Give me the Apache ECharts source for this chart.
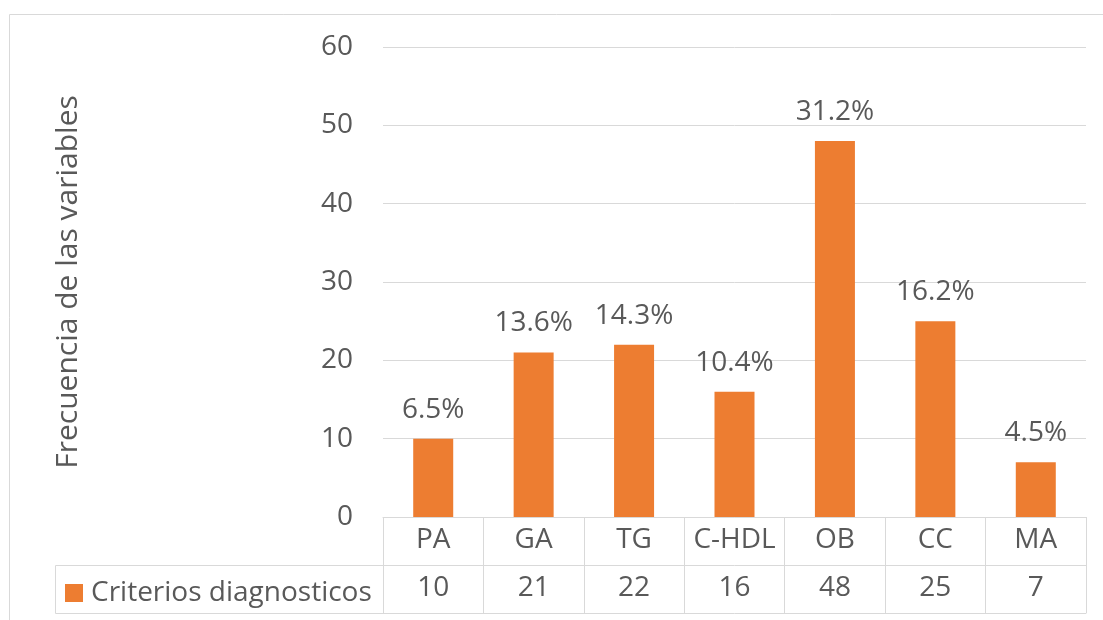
<!DOCTYPE html>
<html>
<head>
<meta charset="utf-8">
<script src="https://cdn.jsdelivr.net/npm/echarts@6/dist/echarts.min.js"></script>
<style>
  html, body { margin: 0; padding: 0; background: #fff; }
  #chart { width: 1103px; height: 620px; }
</style>
</head>
<body>
<div id="chart"></div>
<script>
// datos del grafico
const categorias = ['PA', 'GA', 'TG', 'C-HDL', 'OB', 'CC', 'MA']
const frecuencias = [10, 21, 22, 16, 48, 25, 7]
const porcentajes = ['6.5%', '13.6%', '14.3%', '10.4%', '31.2%', '16.2%', '4.5%']
const serieNombre = 'Criterios diagnosticos'
const ejeYNombre = 'Frecuencia de las variables'

const gris = '#595959'
const lineaGris = '#d9d9d9'
const naranja = '#ed7d31'
const fuente = '"Open Sans", sans-serif'
const tam = 28

const chart = echarts.init(document.getElementById('chart'))

const option = {
	animation: false,
	textStyle: { fontFamily: fuente },
	grid: { left: 383, right: 17, top: 47, bottom: 103 },
	legend: {
		data: [serieNombre],
		left: 60,
		top: 574,
		itemWidth: 18,
		itemHeight: 18,
		icon: 'rect',
		textStyle: { fontSize: tam, color: gris, fontFamily: fuente, padding: [0, 0, 0, 3] },
	},
	xAxis: [
		{
			type: 'category',
			data: categorias,
			axisLine: { lineStyle: { color: lineaGris } },
			axisTick: { show: true, interval: 0, length: 96, lineStyle: { color: lineaGris } },
			axisLabel: { interval: 0, fontSize: tam, color: gris, margin: 9 },
		},
		{
			type: 'category',
			data: categorias,
			position: 'bottom',
			offset: 48,
			axisLine: { lineStyle: { color: lineaGris } },
			axisTick: { show: false },
			axisLabel: {
				interval: 0,
				fontSize: tam,
				color: gris,
				margin: 9,
				formatter: (v, i) => String(frecuencias[i]),
			},
		},
		{
			type: 'category',
			data: categorias,
			position: 'bottom',
			offset: 96,
			axisLine: { lineStyle: { color: lineaGris } },
			axisTick: { show: false },
			axisLabel: { show: false },
		},
	],
	yAxis: {
		type: 'value',
		min: 0,
		max: 60,
		interval: 10,
		name: ejeYNombre,
		nameLocation: 'middle',
		nameRotate: 90,
		nameGap: 300,
		nameTextStyle: { fontSize: 30, color: gris },
		axisLine: { show: false },
		axisTick: { show: false },
		axisLabel: { fontSize: tam, color: gris, margin: 30 },
		splitLine: { lineStyle: { color: lineaGris } },
	},
	series: [
		{
			name: serieNombre,
			type: 'bar',
			data: frecuencias,
			barWidth: 40,
			itemStyle: { color: naranja },
			label: {
				show: true,
				position: 'top',
				distance: 15,
				fontSize: tam,
				color: gris,
				formatter: (p) => porcentajes[p.dataIndex],
			},
		},
	],
	graphic: [
		// marco exterior
		{ type: 'rect', shape: { x: 9.5, y: 14.5, width: 1200, height: 700 }, style: { fill: 'none', stroke: lineaGris }, silent: true },
		// celda de la leyenda
		{ type: 'line', shape: { x1: 55.5, y1: 565.5, x2: 383, y2: 565.5 }, style: { stroke: lineaGris } },
		{ type: 'line', shape: { x1: 55.5, y1: 613.5, x2: 383, y2: 613.5 }, style: { stroke: lineaGris } },
		{ type: 'line', shape: { x1: 55.5, y1: 565.5, x2: 55.5, y2: 613.5 }, style: { stroke: lineaGris } },
	],
}

chart.setOption(option)
</script>
</body>
</html>
